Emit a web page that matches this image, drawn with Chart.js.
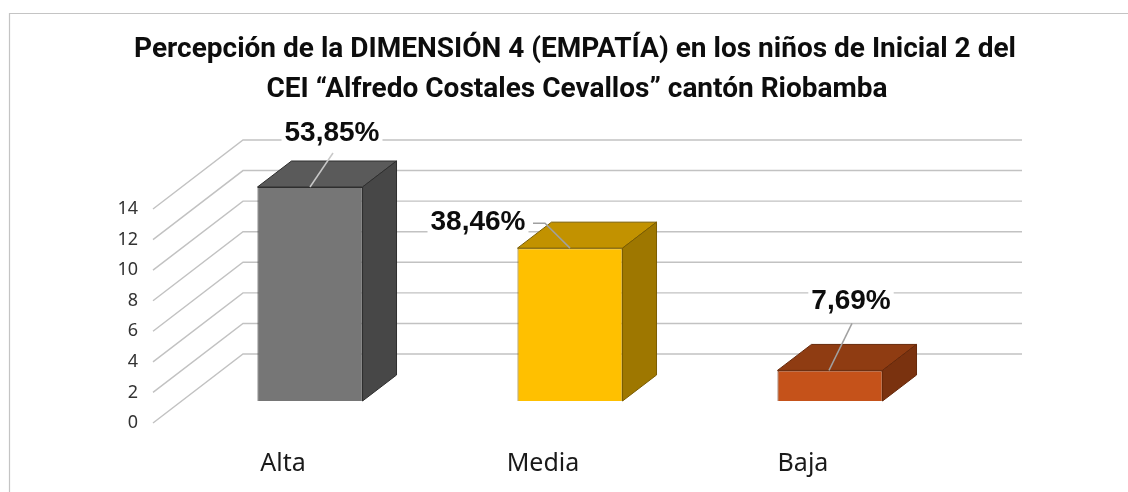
<!DOCTYPE html>
<html>
<head>
<meta charset="utf-8">
<script src="https://cdn.jsdelivr.net/npm/chart.js@4.4.1/dist/chart.umd.min.js"></script>
<style>
  html, body { margin: 0; padding: 0; background: #fff; }
  #wrap { position: relative; width: 1128px; height: 492px; }
</style>
</head>
<body>
<div id="wrap"><canvas id="chart"></canvas></div>
<script>
// Chart data
const categories = ['Alta', 'Media', 'Baja'];
const counts = [14, 10, 2];
const yTicks = [0, 2, 4, 6, 8, 10, 12, 14];
const titleLines = [
    'Percepción de la DIMENSIÓN 4 (EMPATÍA) en los niños de Inicial 2 del',
    'CEI “Alfredo Costales Cevallos” cantón Riobamba'
];

// Bar colours: front face, top face, side face, outline
const frontColors = ['#767676', '#FFC000', '#C5521A'];
const topColors = ['#5A5A5A', '#C29200', '#8F3C12'];
const sideColors = ['#474747', '#9E7700', '#7A320F'];
const edgeColors = ['#2E2E2E', '#7A5C00', '#66280A'];

// Oblique 3D geometry (pixels)
const DEPTH_X = 34, DEPTH_Y = -26;
const BACK_DY = -47, FRONT_DY = 22;
const AXIS_FRONT_X = 153, AXIS_BACK_X = 243, WALL_RIGHT = 1022;
const CAT_LABEL_DX = -27;

// Where each percentage label sits, relative to the top-front centre of its bar
const labelSpots = [
    { dx: 22, dy: -54, leader: [[23, -34], [0, 0]] },
    { dx: -92, dy: -26, leader: [[-37, -25], [-25, -25], [0, 0]] },
    { dx: 21, dy: -69, leader: [[22, -47], [-1, 0]] }
];

const total = counts.reduce((a, b) => a + b, 0);
function pctText(v) {
    return (v / total * 100).toFixed(2).replace('.', ',') + '%';
}

// Background, frame, title, back wall and front axis
const wallPlugin = {
    id: 'wall',
    beforeDraw(chart) {
        const ctx = chart.ctx;
        ctx.save();
        ctx.fillStyle = '#fff';
        ctx.fillRect(0, 0, chart.width, chart.height);

        ctx.strokeStyle = '#C4C4C4';
        ctx.lineWidth = 1.2;
        ctx.beginPath();
        ctx.moveTo(9.5, chart.height);
        ctx.lineTo(9.5, 13.5);
        ctx.lineTo(chart.width, 13.5);
        ctx.stroke();

        // title, sized to fit the original width
        let size = 25;
        ctx.font = `bold ${size}px Roboto, "Noto Sans"`;
        const w = ctx.measureText(titleLines[0]).width;
        size = size * 882 / w;
        ctx.font = `bold ${size.toFixed(2)}px Roboto, "Noto Sans"`;
        ctx.fillStyle = '#0D0D0D';
        ctx.textAlign = 'center';
        ctx.textBaseline = 'alphabetic';
        ctx.fillText(titleLines[0], 575, 57);
        ctx.fillText(titleLines[1], 577, 97);
        ctx.restore();
    },
    beforeDatasetsDraw(chart) {
        const ctx = chart.ctx;
        const y = chart.scales.y;
        ctx.save();
        ctx.strokeStyle = '#C2C2C2';
        ctx.lineWidth = 1.4;
        yTicks.forEach(v => {
            const py = y.getPixelForValue(v);
            ctx.beginPath();
            ctx.moveTo(AXIS_FRONT_X, py + FRONT_DY);
            ctx.lineTo(AXIS_BACK_X, py + BACK_DY);
            ctx.lineTo(WALL_RIGHT, py + BACK_DY);
            ctx.stroke();
        });

        ctx.fillStyle = '#333';
        ctx.font = '18px "Noto Sans"';
        ctx.textAlign = 'right';
        ctx.textBaseline = 'middle';
        yTicks.forEach(v => {
            ctx.fillText(String(v), AXIS_FRONT_X - 15, y.getPixelForValue(v) + FRONT_DY);
        });

        const x = chart.scales.x;
        ctx.fillStyle = '#1A1A1A';
        ctx.font = '25px "Noto Sans"';
        ctx.textAlign = 'center';
        ctx.textBaseline = 'alphabetic';
        categories.forEach((c, i) => {
            ctx.fillText(c, x.getPixelForValue(i) + CAT_LABEL_DX, 471);
        });
        ctx.restore();
    },
    afterDatasetsDraw(chart) {
        const ctx = chart.ctx;
        const meta = chart.getDatasetMeta(0);
        ctx.save();
        meta.data.forEach((bar, i) => {
            const half = bar.width / 2;
            const xl = bar.x - half, xr = bar.x + half;
            const yt = bar.y, yb = bar.base;
            ctx.lineWidth = 1;
            ctx.strokeStyle = edgeColors[i];

            // top face
            ctx.fillStyle = topColors[i];
            ctx.beginPath();
            ctx.moveTo(xl, yt);
            ctx.lineTo(xl + DEPTH_X, yt + DEPTH_Y);
            ctx.lineTo(xr + DEPTH_X, yt + DEPTH_Y);
            ctx.lineTo(xr, yt);
            ctx.closePath();
            ctx.fill();
            ctx.stroke();

            // side face
            ctx.fillStyle = sideColors[i];
            ctx.beginPath();
            ctx.moveTo(xr, yt);
            ctx.lineTo(xr + DEPTH_X, yt + DEPTH_Y);
            ctx.lineTo(xr + DEPTH_X, yb + DEPTH_Y);
            ctx.lineTo(xr, yb);
            ctx.closePath();
            ctx.fill();
            ctx.stroke();
        });

        // percentage labels with leader lines
        ctx.font = 'bold 28px "Liberation Sans"';
        ctx.textAlign = 'center';
        ctx.textBaseline = 'middle';
        meta.data.forEach((bar, i) => {
            const spot = labelSpots[i];
            const cx = bar.x, cy = bar.y;
            ctx.strokeStyle = i === 0 ? '#C8C8C8' : '#A0A0A0';
            ctx.lineWidth = 1.5;
            ctx.beginPath();
            spot.leader.forEach((p, k) => {
                if (k === 0) ctx.moveTo(cx + p[0], cy + p[1]);
                else ctx.lineTo(cx + p[0], cy + p[1]);
            });
            ctx.stroke();

            const txt = pctText(counts[i]);
            const tw = ctx.measureText(txt).width;
            const tx = cx + spot.dx, ty = cy + spot.dy;
            ctx.fillStyle = '#fff';
            ctx.fillRect(tx - tw / 2 - 3, ty - 14, tw + 6, 28);
            ctx.fillStyle = '#0D0D0D';
            ctx.fillText(txt, tx, ty);
        });
        ctx.restore();
    }
};

new Chart(document.getElementById('chart'), {
    type: 'bar',
    data: {
        labels: categories,
        datasets: [{
            data: counts,
            backgroundColor: frontColors,
            borderColor: edgeColors,
            borderWidth: 1,
            barPercentage: 0.404,
            categoryPercentage: 1
        }]
    },
    options: {
        responsive: true,
        maintainAspectRatio: false,
        animation: false,
        layout: { padding: { left: 180, right: 168, top: 187, bottom: 91 } },
        scales: {
            x: { display: false },
            y: { display: false, min: 0, max: 14 }
        },
        plugins: {
            legend: { display: false },
            tooltip: { enabled: false },
            title: { display: false }
        }
    },
    plugins: [wallPlugin]
});
</script>
</body>
</html>
